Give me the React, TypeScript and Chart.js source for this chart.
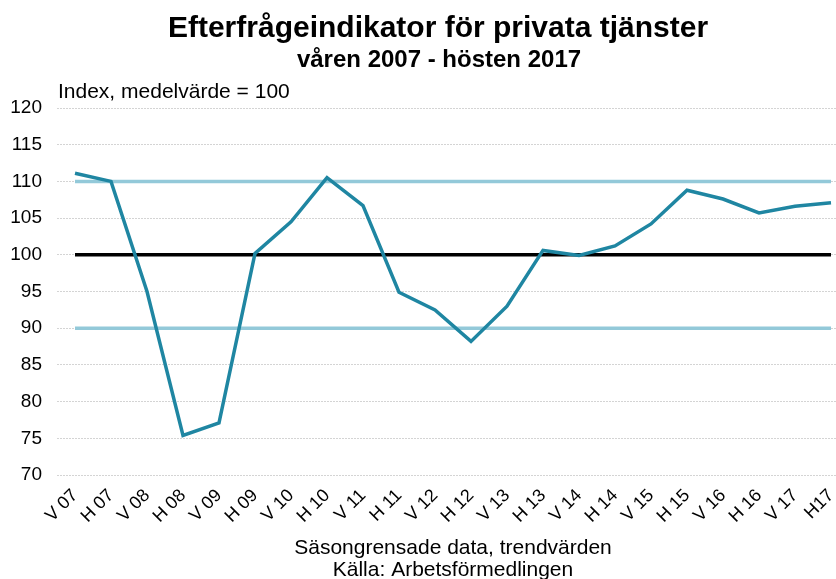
import React, { useEffect, useRef } from "react";
import { Chart, registerables } from "chart.js";

Chart.register(...registerables);

const categories = [
  "V 07", "H 07", "V 08", "H 08", "V 09", "H 09", "V 10", "H 10", "V 11", "H 11", "V 12",
  "H 12", "V 13", "H 13", "V 14", "H 14", "V 15", "H 15", "V 16", "H 16", "V 17", "H17",
];

const indexValues = [
  111.1, 110.0, 95.0, 75.4, 77.1, 100.2, 104.5, 110.5, 106.7, 94.9, 92.5,
  88.2, 93.0, 100.6, 99.9, 101.2, 104.2, 108.8, 107.6, 105.7, 106.6, 107.1,
];

const meanLine = [100, 100, 100, 100, 100, 100, 100, 100, 100, 100, 100, 100, 100, 100, 100, 100, 100, 100, 100, 100, 100, 100];
const upperLine = [110, 110, 110, 110, 110, 110, 110, 110, 110, 110, 110, 110, 110, 110, 110, 110, 110, 110, 110, 110, 110, 110];
const lowerLine = [90, 90, 90, 90, 90, 90, 90, 90, 90, 90, 90, 90, 90, 90, 90, 90, 90, 90, 90, 90, 90, 90];

const yMin = 70;
const yMax = 120;
const yStep = 5;

const titleText = "Efterfrågeindikator för privata tjänster";
const subtitleText = "våren 2007 - hösten 2017";
const unitText = "Index, medelvärde = 100";
const xTitleLines = ["Säsongrensade data, trendvärden", "Källa: Arbetsförmedlingen"];

const FONT = "'Liberation Sans', Arial, sans-serif";

const headerPlugin = {
  id: "header",
  afterDraw(chart: any) {
    const { ctx, chartArea, width } = chart;
    ctx.save();
    ctx.fillStyle = "#000";
    ctx.textBaseline = "alphabetic";
    ctx.textAlign = "center";
    ctx.font = `bold 30px ${FONT}`;
    ctx.fillText(titleText, width / 2, 37);
    ctx.font = `bold 24px ${FONT}`;
    ctx.fillText(subtitleText, width / 2 + 1, 67);
    ctx.font = `21px ${FONT}`;
    ctx.textAlign = "left";
    ctx.fillText(unitText, chartArea.left + 1, chartArea.top - 10);
    ctx.restore();
  },
};

export default function App() {
  const ref = useRef<HTMLCanvasElement | null>(null);

  useEffect(() => {
    if (!ref.current) return;
    const chart = new Chart(ref.current, {
      type: "line",
      data: {
        labels: categories,
        datasets: [
          {
            label: "Index",
            data: indexValues,
            borderColor: "#1f86a2",
            borderWidth: 3.5,
            pointRadius: 0,
            tension: 0,
          },
          {
            label: "Medel",
            data: meanLine,
            borderColor: "#000000",
            borderWidth: 3.5,
            pointRadius: 0,
          },
          {
            label: "Övre",
            data: upperLine,
            borderColor: "#93c9d9",
            borderWidth: 3.5,
            pointRadius: 0,
          },
          {
            label: "Nedre",
            data: lowerLine,
            borderColor: "#93c9d9",
            borderWidth: 3.5,
            pointRadius: 0,
          },
        ],
      },
      options: {
        responsive: false,
        animation: false,
        devicePixelRatio: 1,
        layout: { padding: { left: 10, right: 27, top: 108, bottom: 0 } },
        plugins: {
          legend: { display: false },
          tooltip: { enabled: false },
          title: { display: false },
        },
        scales: {
          x: {
            type: "category",
            offset: true,
            grid: { display: false, drawTicks: false },
            border: { display: false },
            ticks: {
              color: "#000",
              font: { family: FONT, size: 18 },
              minRotation: 45,
              maxRotation: 45,
              autoSkip: false,
              padding: 10,
            },
            title: {
              display: true,
              text: xTitleLines,
              color: "#000",
              font: { family: FONT, size: 21, lineHeight: 1.05 },
              padding: { top: 4, bottom: -2 },
            },
            afterFit: (scale: any) => {
              scale.paddingLeft = 0;
              scale.paddingRight = 0;
              scale.height = 104;
            },
          },
          y: {
            min: yMin,
            max: yMax,
            border: { display: false, dash: [2, 1] },
            grid: { color: "#d4d4d4", lineWidth: 1, drawTicks: false },
            ticks: {
              stepSize: yStep,
              color: "#000",
              font: { family: FONT, size: 19 },
              padding: 15,
            },
            afterFit: (scale: any) => {
              scale.width = 47;
              scale.paddingTop = 0;
              scale.paddingBottom = 0;
            },
          },
        },
      },
      plugins: [headerPlugin],
    });
    return () => chart.destroy();
  }, []);

  return (
    <div
      style={{
        position: "fixed",
        left: 0,
        top: 0,
        width: 836,
        height: 579,
        overflow: "hidden",
        background: "#fff",
      }}
    >
      <canvas ref={ref} width={876} height={579} style={{ display: "block" }} />
    </div>
  );
}
